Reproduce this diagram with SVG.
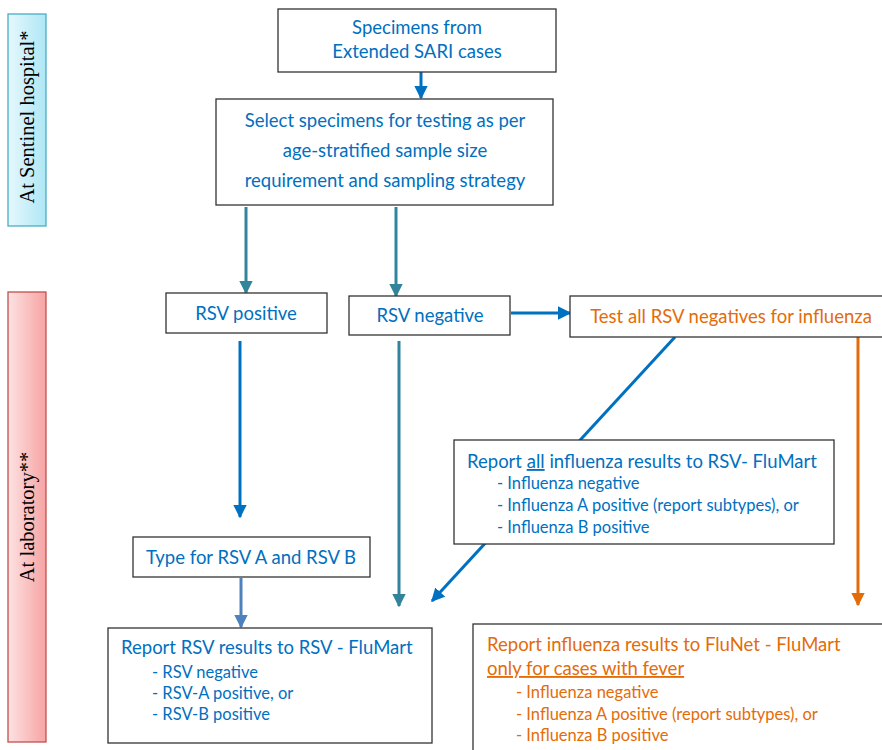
<svg xmlns="http://www.w3.org/2000/svg" width="882" height="750" viewBox="0 0 882 750">
<defs>
<linearGradient id="gCyan" x1="0" y1="0" x2="1" y2="0">
<stop offset="0" stop-color="#e6f8fd"/><stop offset="1" stop-color="#aee7f5"/>
</linearGradient>
<linearGradient id="gPink" x1="0" y1="0" x2="1" y2="0">
<stop offset="0" stop-color="#fde2e2"/><stop offset="1" stop-color="#f7a3a3"/>
</linearGradient>
<marker id="aBlue" viewBox="0 0 10 10" refX="9" refY="5" markerWidth="4.5" markerHeight="4.5" orient="auto" markerUnits="strokeWidth"><path d="M0,0 L10,5 L0,10 z" fill="#0070C0"/></marker>
<marker id="aTeal" viewBox="0 0 10 10" refX="9" refY="5" markerWidth="4.5" markerHeight="4.5" orient="auto" markerUnits="strokeWidth"><path d="M0,0 L10,5 L0,10 z" fill="#31849B"/></marker>
<marker id="aSteel" viewBox="0 0 10 10" refX="9" refY="5" markerWidth="4.5" markerHeight="4.5" orient="auto" markerUnits="strokeWidth"><path d="M0,0 L10,5 L0,10 z" fill="#4F81BD"/></marker>
<marker id="aOrange" viewBox="0 0 10 10" refX="9" refY="5" markerWidth="4.5" markerHeight="4.5" orient="auto" markerUnits="strokeWidth"><path d="M0,0 L10,5 L0,10 z" fill="#E36C09"/></marker>
</defs>
<style>
.box{fill:#fff;stroke:#333;stroke-width:1.3}
.t{font-family:Lato,"Open Sans","Liberation Sans",sans-serif;font-size:18.5px;fill:#0070C0}
.s{font-family:Lato,"Open Sans","Liberation Sans",sans-serif;font-size:16.5px;fill:#0070C0}
.o{fill:#E36C09}
.side{font-family:"Liberation Serif","DejaVu Serif",serif;font-size:20.5px;fill:#000}
.c{fill:none;stroke-width:3}
</style>

<g id="side-hospital">
<rect x="8" y="14" width="38" height="212" fill="url(#gCyan)" stroke="#4BACC6" stroke-width="1.3"/>
<text class="side" transform="translate(34,117) rotate(-90)" text-anchor="middle">At Sentinel hospital*</text>
</g>
<g id="side-lab">
<rect x="8" y="292" width="38" height="450" fill="url(#gPink)" stroke="#C0504D" stroke-width="1.3"/>
<text class="side" transform="translate(34,517) rotate(-90)" text-anchor="middle">At laboratory**</text>
</g>

<g id="connectors">
<line class="c" x1="421" y1="72" x2="421" y2="98" stroke="#0070C0" marker-end="url(#aBlue)"/>
<line class="c" x1="246" y1="207" x2="246" y2="293" stroke="#31849B" marker-end="url(#aTeal)"/>
<line class="c" x1="396" y1="207" x2="396" y2="296" stroke="#31849B" marker-end="url(#aTeal)"/>
<line class="c" x1="511" y1="313" x2="570" y2="313" stroke="#0070C0" marker-end="url(#aBlue)"/>
<line class="c" x1="240" y1="341" x2="240" y2="517" stroke="#0070C0" marker-end="url(#aBlue)"/>
<line class="c" x1="399" y1="341" x2="399" y2="606" stroke="#31849B" marker-end="url(#aTeal)"/>
<line class="c" x1="675" y1="337" x2="432" y2="601" stroke="#0070C0" marker-end="url(#aBlue)"/>
<line class="c" x1="858" y1="337" x2="858" y2="605" stroke="#E36C09" marker-end="url(#aOrange)"/>
<line class="c" x1="241" y1="578" x2="241" y2="627" stroke="#4F81BD" marker-end="url(#aSteel)"/>
</g>

<g id="n-specimens">
<rect class="box" x="278" y="9" width="278" height="63"/>
<text class="t" x="417" y="34" text-anchor="middle">Specimens from</text>
<text class="t" x="417" y="58" text-anchor="middle">Extended SARI cases</text>
</g>
<g id="n-select">
<rect class="box" x="216" y="99" width="337" height="106"/>
<text class="t" x="385" y="127" text-anchor="middle">Select specimens for testing as per</text>
<text class="t" x="385" y="157" text-anchor="middle">age-stratified sample size</text>
<text class="t" x="385" y="187" text-anchor="middle">requirement and sampling strategy</text>
</g>
<g id="n-rsvpos">
<rect class="box" x="166" y="293" width="161" height="40"/>
<text class="t" x="246" y="320" text-anchor="middle">RSV positive</text>
</g>
<g id="n-rsvneg">
<rect class="box" x="349" y="296" width="161" height="39"/>
<text class="t" x="430" y="322" text-anchor="middle">RSV negative</text>
</g>
<g id="n-testflu">
<rect class="box" x="570" y="296" width="318" height="41"/>
<text class="t o" x="731" y="323" text-anchor="middle">Test all RSV negatives for influenza</text>
</g>
<g id="n-reportall">
<rect class="box" x="454" y="440" width="380" height="104"/>
<text class="t" x="467" y="468">Report <tspan text-decoration="underline">all</tspan> influenza results to RSV- FluMart</text>
<text class="s" x="497" y="489">- Influenza negative</text>
<text class="s" x="497" y="511">- Influenza A positive (report subtypes), or</text>
<text class="s" x="497" y="533">- Influenza B positive</text>
</g>
<g id="n-type">
<rect class="box" x="133" y="537" width="237" height="40"/>
<text class="t" x="251" y="564" text-anchor="middle">Type for RSV A and RSV B</text>
</g>
<g id="n-reportrsv">
<rect class="box" x="108" y="628" width="324" height="115"/>
<text class="t" x="121" y="654">Report RSV results to RSV - FluMart</text>
<text class="s" x="152" y="678">- RSV negative</text>
<text class="s" x="152" y="699">- RSV-A positive, or</text>
<text class="s" x="152" y="720">- RSV-B positive</text>
</g>
<g id="n-reportflunet">
<rect class="box" x="473" y="624" width="415" height="135"/>
<text class="t o" x="487" y="651">Report influenza results to FluNet - FluMart</text>
<text class="t o" x="487" y="675" text-decoration="underline">only for cases with fever</text>
<text class="s o" x="516" y="698">- Influenza negative</text>
<text class="s o" x="516" y="720">- Influenza A positive (report subtypes), or</text>
<text class="s o" x="516" y="741">- Influenza B positive</text>
</g>
</svg>
